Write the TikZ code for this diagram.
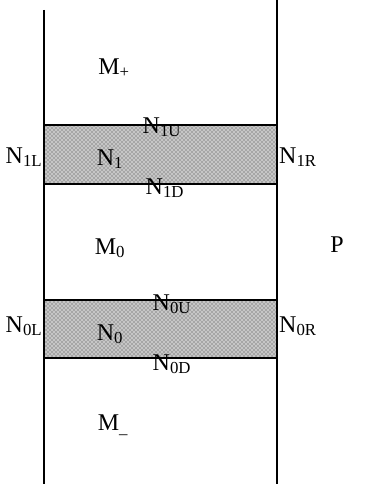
\documentclass[tikz,border=0pt]{standalone}
\usepackage{fontspec}
\setmainfont{Liberation Serif}
\usepackage{tikz}
\usetikzlibrary{patterns}

\begin{document}
\begin{tikzpicture}[x=0.75pt,y=-0.75pt,
    lbl/.style={inner sep=0pt,font=\fontsize{18}{21}\selectfont},
    layer/.style={fill=gray!45,pattern=crosshatch dots,pattern color=black!75},
    wall/.style={line width=0.9pt}]
  \useasboundingbox (0,0) rectangle (371,484);
  % shaded layers
  \fill[gray!45] (44,125) rectangle (277,184);
  \fill[gray!45] (44,300) rectangle (277,358);
  \path[layer] (44,125) rectangle (277,184);
  \path[layer] (44,300) rectangle (277,358);
  \draw[wall] (44,125) -- (277,125) (44,184) -- (277,184);
  \draw[wall] (44,300) -- (277,300) (44,358) -- (277,358);
  % walls
  \draw[wall] (44,10) -- (44,484);
  \draw[wall] (277,0) -- (277,484);
  \node[lbl] (mp) at (114,68) {M\textsubscript{+}};
  \node[lbl] (n1u) at (162,127) {N\textsubscript{1U}};
  \node[lbl] (n1) at (110,159) {N\textsubscript{1}};
  \node[lbl] (n1l) at (24,157) {N\textsubscript{1L}};
  \node[lbl] (n1r) at (298,157) {N\textsubscript{1R}};
  \node[lbl] (n1d) at (165,188) {N\textsubscript{1D}};
  \node[lbl] (m0) at (110,248) {M\textsubscript{0}};
  \node[lbl] (p) at (337,245) {P};
  \node[lbl] (n0u) at (172,304) {N\textsubscript{0U}};
  \node[lbl] (n0) at (110,334) {N\textsubscript{0}};
  \node[lbl] (n0l) at (24,326) {N\textsubscript{0L}};
  \node[lbl] (n0r) at (298,326) {N\textsubscript{0R}};
  \node[lbl] (n0d) at (172,364) {N\textsubscript{0D}};
  \node[lbl] (mm) at (113,425) {M\textsubscript{\_}};
\end{tikzpicture}
\end{document}
